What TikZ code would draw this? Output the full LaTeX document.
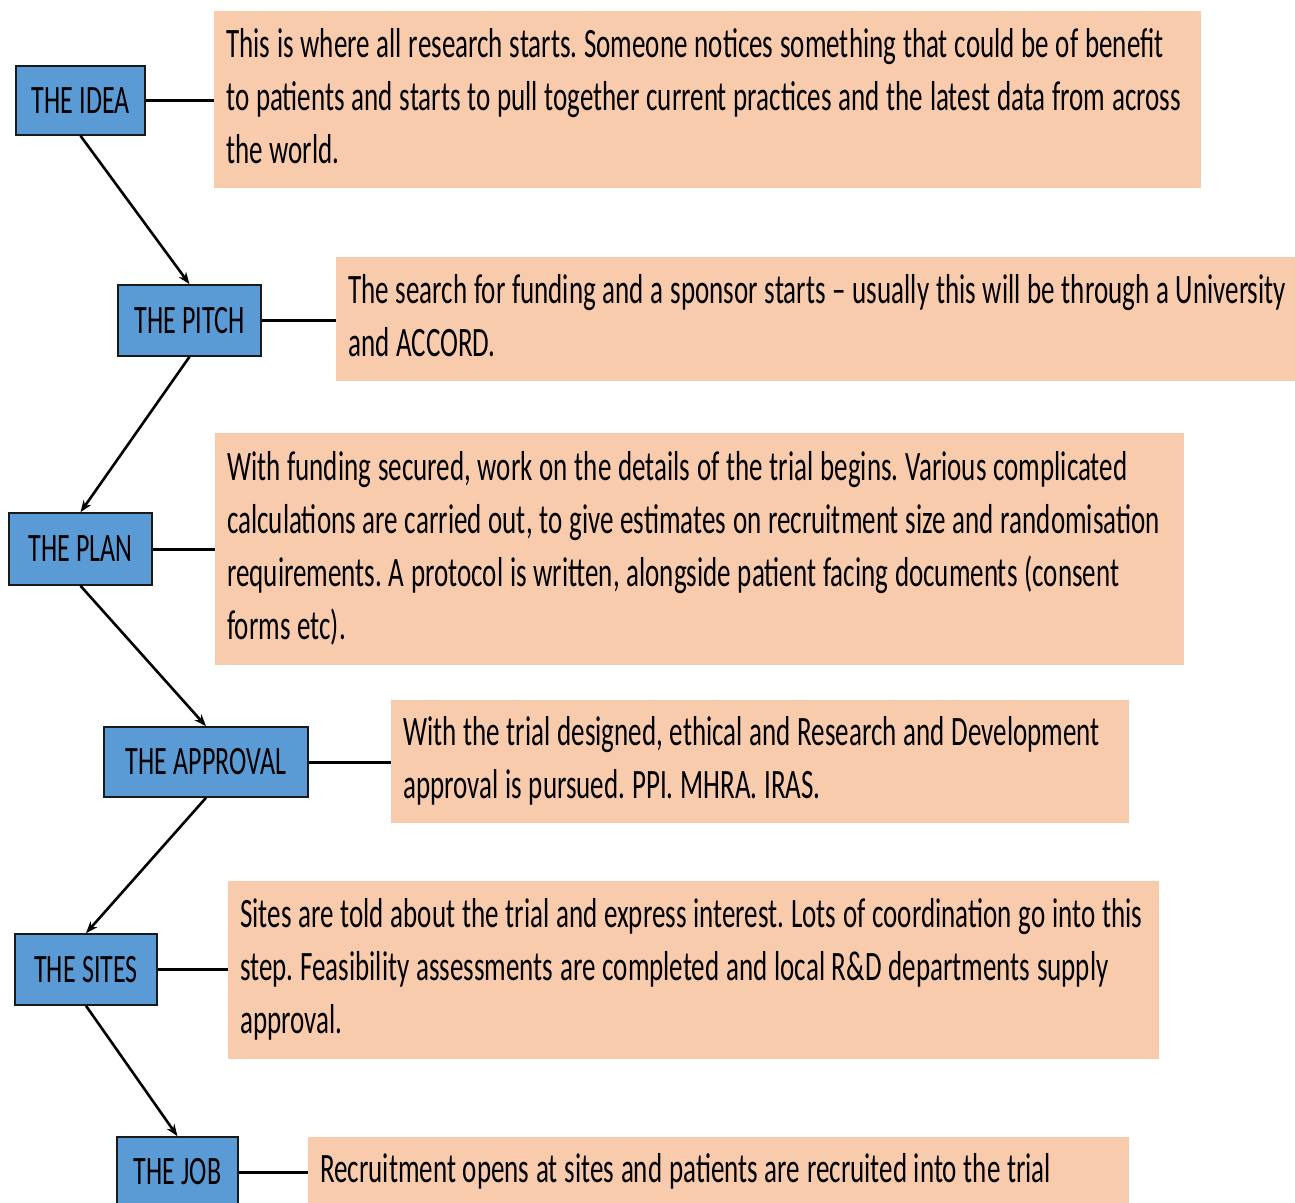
\documentclass[tikz,border=0pt]{standalone}
\usepackage{fontspec}
\usepackage{graphicx}
\setmainfont{Carlito}
\usetikzlibrary{arrows.meta}
\definecolor{stepblue}{HTML}{5B9BD5}
\definecolor{noteorange}{HTML}{F8CBAD}
\definecolor{edgedark}{HTML}{1A1A1A}
% vertically stretched text, as in the reference
\newcommand\tallnote[1]{\scalebox{1}[1.55]{\fontsize{27}{34.2}\selectfont\frenchspacing\spaceskip=6.8pt plus 2pt minus 1pt\relax\xspaceskip=6.8pt\relax\begin{tabular}{@{}l@{}}#1\end{tabular}}}
\newcommand\talllabel[1]{\scalebox{1}[1.55]{\fontsize{26}{30}\selectfont\spaceskip=6.5pt\relax #1}}
\tikzset{
  stepbox/.style={draw=edgedark, line width=1.6pt, fill=stepblue, inner sep=0pt, text=black},
  notebox/.style={fill=noteorange, anchor=north west, inner xsep=12pt, inner ysep=0pt,
    align=left, text=black},
  flow/.style={draw=black, line width=2.6pt, -{Stealth[length=12pt,width=9pt]}},
  link/.style={draw=black, line width=3pt}
}
\begin{document}
\begin{tikzpicture}[x=1pt,y=-1pt]
\useasboundingbox (0,0) rectangle (1295,1202);
\clip (0,0) rectangle (1295,1202);
\fill[white] (0,0) rectangle (1295,1202);

% note boxes
\node[notebox, text width=963pt, minimum height=177pt] (o1) at (214,11)
 {\tallnote{This is where all research starts. Someone notices something that could be of benefit\\
  to patients and starts to pull together current practices and the latest data from across\\
  the world.}};
\node[notebox, text width=935pt, minimum height=124pt] (o2) at (336,257)
 {\tallnote{The search for funding and a sponsor starts -- usually this will be through a University\\
  and ACCORD.}};
\node[notebox, text width=945pt, minimum height=232pt] (o3) at (215,433)
 {\tallnote{With funding secured, work on the details of the trial begins. Various complicated\\
  calculations are carried out, to give estimates on recruitment size and randomisation\\
  requirements. A protocol is written, alongside patient facing documents (consent\\
  forms etc).}};
\node[notebox, text width=714pt, minimum height=123pt] (o4) at (391,700)
 {\tallnote{With the trial designed, ethical and Research and Development\\
  approval is pursued. PPI. MHRA. IRAS.}};
\node[notebox, text width=907pt, minimum height=178pt] (o5) at (228,881)
 {\tallnote{Sites are told about the trial and express interest. Lots of coordination go into this\\
  step. Feasibility assessments are completed and local R\&D departments supply\\
  approval.}};
\node[notebox, text width=797pt, minimum height=70pt] (o6) at (308,1137)
 {\tallnote{Recruitment opens at sites and patients are recruited into the trial}};

% step boxes
\node[stepbox, minimum width=129pt, minimum height=69pt] (idea) at (80.5,100.5) {\talllabel{THE IDEA}};
\node[stepbox, minimum width=143pt, minimum height=71pt] (pitch) at (189.5,320.5) {\talllabel{THE PITCH}};
\node[stepbox, minimum width=143pt, minimum height=72pt] (plan) at (80.5,549) {\talllabel{THE PLAN}};
\node[stepbox, minimum width=204pt, minimum height=70pt] (approval) at (206,762) {\talllabel{THE APPROVAL}};
\node[stepbox, minimum width=142pt, minimum height=71pt] (sites) at (86,969.5) {\talllabel{THE SITES}};
\node[stepbox, minimum width=121pt, minimum height=70pt] (job) at (177.5,1172) {\talllabel{THE JOB}};

% flow arrows
\draw[flow] (idea.south) -- (pitch.north);
\draw[flow] (pitch.south) -- (plan.north);
\draw[flow] (plan.south) -- (approval.north);
\draw[flow] (approval.south) -- (sites.north);
\draw[flow] (sites.south) -- (job.north);

% links to notes
\draw[link] (idea.east) -- (idea.east -| o1.west);
\draw[link] (pitch.east) -- (pitch.east -| o2.west);
\draw[link] (plan.east) -- (plan.east -| o3.west);
\draw[link] (approval.east) -- (approval.east -| o4.west);
\draw[link] (sites.east) -- (sites.east -| o5.west);
\draw[link] (job.east) -- (job.east -| o6.west);
\end{tikzpicture}
\end{document}
